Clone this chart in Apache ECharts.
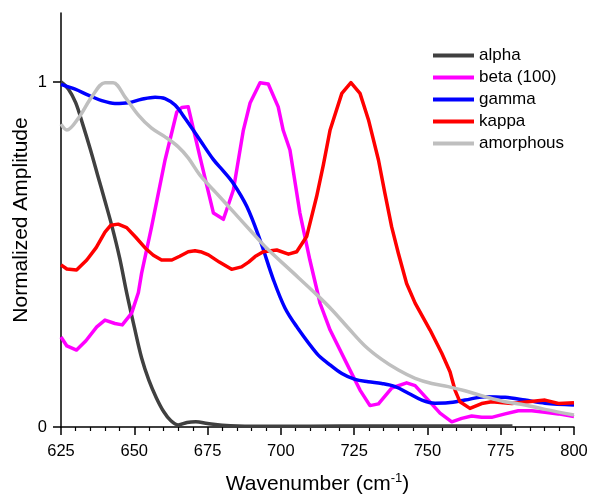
<!DOCTYPE html>
<html>
<head>
<meta charset="utf-8">
<script src="https://cdn.jsdelivr.net/npm/echarts@6/dist/echarts.min.js"></script>
<style>html,body{margin:0;padding:0;background:#fff}#c{width:592px;height:495px}</style>
</head>
<body>
<div id="c"></div>
<script>
// Series names (legend order)
const seriesNames = ['alpha', 'beta (100)', 'gamma', 'kappa', 'amorphous'];
// X tick labels
const xTicks = [625, 650, 675, 700, 725, 750, 775, 800];
const yTicks = [0, 1];
const yTitle = 'Normalized Amplitude';

// [wavenumber, normalized amplitude]
const alpha = [[625,1.0],[627.5,0.98],[630,0.94],[632.5,0.875],[635,0.805],[637.5,0.73],[640,0.655],[642.5,0.578],[645,0.49],[647.5,0.385],[650,0.29],[652.5,0.2],[655,0.135],[657.5,0.085],[660,0.045],[662.5,0.018],[665,0.006],[668,0.013],[671,0.015],[675,0.01],[680,0.005],[690,0.002],[700,0.002],[720,0.003],[740,0.003],[760,0.003],[779,0.003]];
const beta = [[625,0.261],[627,0.235],[630.3,0.223],[633.5,0.25],[637.2,0.29],[640,0.31],[643.4,0.30],[645.9,0.296],[649.1,0.33],[651.4,0.39],[652.5,0.446],[655.9,0.58],[660.5,0.774],[664.5,0.913],[666.2,0.926],[668.4,0.928],[672.4,0.783],[677,0.62],[680.4,0.602],[683.8,0.687],[687.2,0.86],[689.5,0.939],[692.9,0.998],[695.7,0.994],[699.1,0.928],[700.8,0.86],[703.1,0.803],[706.5,0.62],[709.9,0.484],[713.4,0.358],[716.8,0.281],[723,0.175],[727,0.107],[730.4,0.062],[733.3,0.067],[737.8,0.113],[742.9,0.128],[745.8,0.12],[750.3,0.078],[754.3,0.04],[758.3,0.015],[761.7,0.025],[765.1,0.032],[768.5,0.028],[771.9,0.028],[776.5,0.038],[781,0.047],[785.6,0.047],[790.1,0.043],[794.7,0.038],[800,0.030]];
const gamma = [[625,0.993],[629.8,0.979],[634.3,0.962],[638.9,0.946],[643.4,0.938],[648,0.94],[652.5,0.95],[657.1,0.956],[660.5,0.952],[663.9,0.933],[667.3,0.895],[672.4,0.832],[677,0.775],[680.4,0.742],[683.8,0.706],[688.4,0.639],[692.9,0.542],[697.5,0.426],[701.4,0.345],[705.4,0.291],[712.3,0.213],[716.2,0.184],[720.8,0.155],[725.3,0.138],[729.8,0.131],[734.4,0.126],[739,0.117],[743.5,0.098],[748.1,0.078],[752.6,0.069],[757,0.07],[762.8,0.078],[769.6,0.088],[776.5,0.086],[783.3,0.078],[790.1,0.069],[800,0.064]];
const kappa = [[625,0.47],[627,0.458],[630.3,0.455],[633.8,0.484],[637,0.52],[640,0.565],[642,0.585],[644.5,0.588],[647.4,0.578],[650.5,0.55],[653.7,0.519],[656.5,0.498],[659.3,0.484],[662.8,0.484],[665.5,0.495],[668.4,0.508],[670.7,0.511],[673,0.507],[675.3,0.499],[679,0.478],[683.2,0.457],[686.6,0.464],[689,0.478],[691.2,0.494],[694,0.508],[698.6,0.513],[702.6,0.501],[705.4,0.508],[708.8,0.552],[712.2,0.668],[714.5,0.76],[716.8,0.861],[720.8,0.967],[723.9,0.998],[727,0.967],[729.9,0.89],[733.3,0.774],[735.5,0.677],[737.8,0.58],[740.1,0.503],[742.9,0.416],[745.8,0.359],[750.9,0.281],[754.9,0.214],[757.7,0.16],[759.4,0.107],[761.1,0.073],[764.5,0.054],[768.5,0.068],[771.9,0.073],[778.8,0.068],[784.4,0.073],[790.1,0.078],[794.7,0.068],[800,0.07]];
const amorphous = [[625,0.878],[627,0.861],[630.9,0.895],[635.5,0.957],[640,0.998],[642.8,0.998],[646.8,0.957],[651.4,0.904],[655.9,0.866],[660.5,0.841],[665,0.812],[668.4,0.78],[672.4,0.73],[678,0.678],[684,0.622],[690,0.566],[695.2,0.518],[703.7,0.451],[712.3,0.383],[717.4,0.34],[723,0.287],[728.7,0.235],[734.4,0.196],[740.1,0.165],[745.8,0.141],[751.5,0.126],[757.1,0.117],[762.8,0.105],[769.6,0.088],[776.5,0.073],[783.3,0.064],[790.1,0.051],[800,0.035]];

const seriesData = [alpha, beta, gamma, kappa, amorphous];
const colors = ['#404040', '#FF00FF', '#0000FF', '#FF0000', '#BFBFBF'];
const smoothFlags = [0.35, false, 0.35, false, 0.35];

const FONT = '"Liberation Sans", Arial, sans-serif';
const chart = echarts.init(document.getElementById('c'), null, {renderer: 'canvas'});
chart.setOption({
  animation: false,
  backgroundColor: '#fff',
  grid: {left: 61, right: 18, top: 13, bottom: 68, containLabel: false, outerBoundsMode: 'none'},
  legend: {
    orient: 'vertical', left: 433, top: 47, padding: 0, itemWidth: 41, itemHeight: 4, itemGap: 5,
    icon: 'rect',
    textStyle: {fontFamily: FONT, fontSize: 17, color: '#000'},
    data: seriesNames
  },
  graphic: [{
    type: 'text', x: 21, y: 220, rotation: Math.PI / 2, silent: true,
    style: {text: yTitle, fill: '#000', font: '21px "Liberation Sans", Arial, sans-serif',
      textAlign: 'center', textVerticalAlign: 'middle'}
  }],
  xAxis: {
    type: 'value', min: 625, max: 800, interval: 25,
    name: 'Wavenumber (cm{sup|-1})', nameLocation: 'middle', nameGap: 45,
    nameTextStyle: {fontFamily: FONT, fontSize: 21, color: '#000',
      rich: {sup: {fontFamily: FONT, fontSize: 13, color: '#000', padding: [0, 0, 11, 0]}}},
    axisLine: {show: true, lineStyle: {color: '#000', width: 1.5}},
    axisTick: {show: true, length: 8, lineStyle: {color: '#000', width: 1.5}},
    minorTick: {show: true, splitNumber: 5, length: 4, lineStyle: {color: '#000', width: 1.2}},
    axisLabel: {fontFamily: FONT, fontSize: 16.5, color: '#000', margin: 16,
      formatter: v => xTicks.includes(v) ? String(v) : ''},
    splitLine: {show: false}, minorSplitLine: {show: false}
  },
  yAxis: {
    type: 'value', min: 0, max: 1.2,
    axisLine: {show: true, lineStyle: {color: '#000', width: 1.5}},
    axisTick: {show: true, length: 8, customValues: yTicks, lineStyle: {color: '#000', width: 1.5}},
    axisLabel: {fontFamily: FONT, fontSize: 16.5, color: '#000', margin: 14, customValues: yTicks},
    splitLine: {show: false}
  },
  series: seriesNames.map((n, i) => ({
    name: n, type: 'line', data: seriesData[i], smooth: smoothFlags[i],
    symbol: 'none', color: colors[i],
    lineStyle: {color: colors[i], width: 3.5, join: 'round'},
    emphasis: {disabled: true}
  }))
});
</script>
</body>
</html>
